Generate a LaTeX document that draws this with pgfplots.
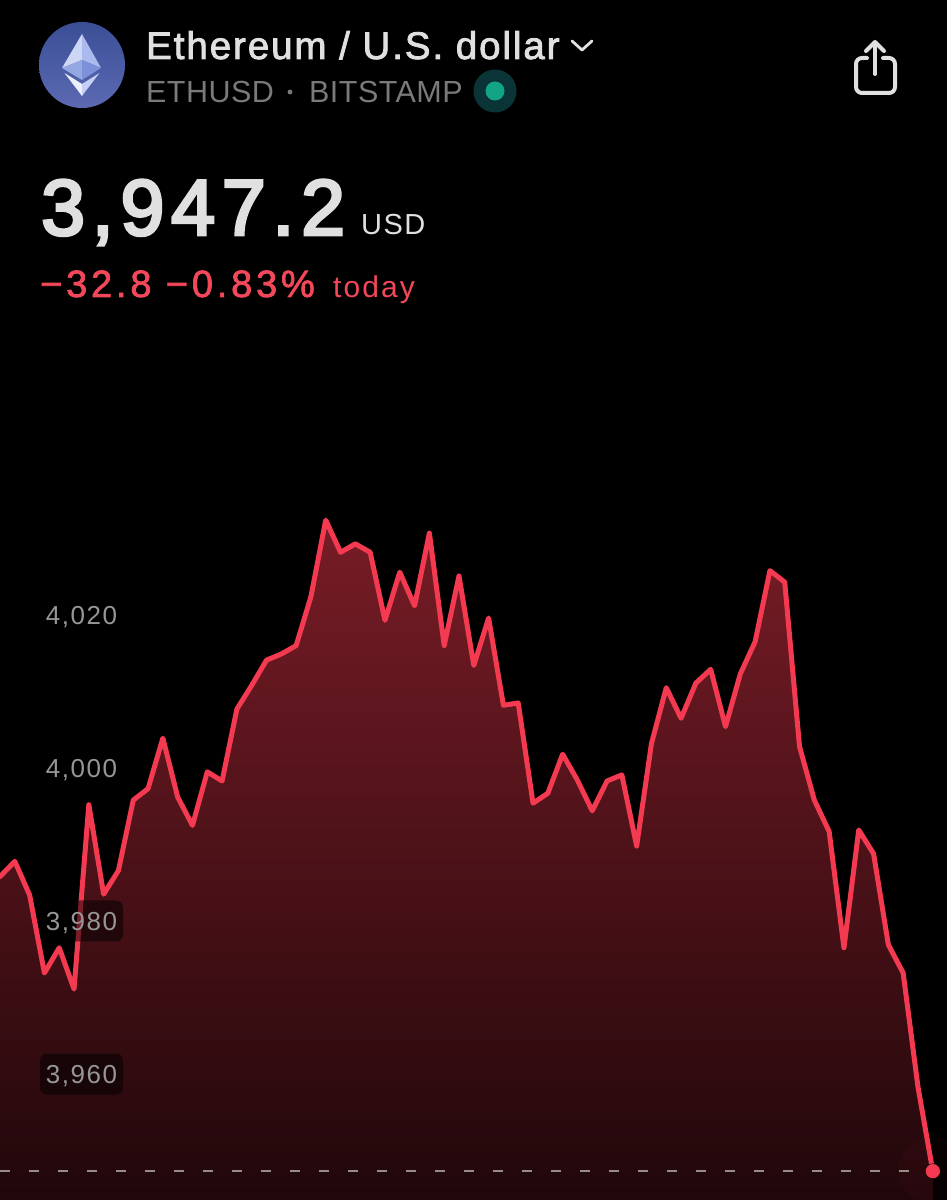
\documentclass[border=0pt]{standalone}
\usepackage{pgfplots}
\pgfplotsset{compat=1.18}
\usepackage{pgfplotstable}
\usepackage{fontspec}
\setmainfont{Liberation Sans}
\newfontfamily\titlefont[LetterSpace=5]{Liberation Sans}
\newfontfamily\pricefont[LetterSpace=8.5]{Liberation Sans}
\newfontfamily\redfont[LetterSpace=10]{Liberation Sans}
\newfontfamily\todayfont[LetterSpace=7]{Liberation Sans}
\newfontfamily\usdfont[LetterSpace=5]{Liberation Sans}
\newfontfamily\subfont[LetterSpace=1.5]{Liberation Sans}
\newfontfamily\tickfont[LetterSpace=6]{Liberation Sans}
\newcommand{\strk}[2]{\special{pdf:code 2 Tr #1 w}#2\special{pdf:code 0 Tr 1 w}}
\definecolor{linered}{RGB}{244,58,80}
\definecolor{txtred}{RGB}{242,72,90}
\definecolor{filltop}{RGB}{120,28,38}
\definecolor{fillbot}{RGB}{32,7,10}
\definecolor{lighttxt}{RGB}{224,224,224}
\definecolor{greytxt}{RGB}{122,122,122}
\definecolor{ticktxt}{RGB}{150,150,150}
\definecolor{dashgrey}{RGB}{150,140,140}
\pgfplotstableread{
i v
0 3985.8
1 3987.8
2 3983.4
3 3973.2
4 3976.5
5 3971.1
6 3995.2
7 3983.5
8 3986.6
9 3995.8
10 3997.3
11 4003.9
12 3996.2
13 3992.5
14 3999.5
15 3998.3
16 4007.7
17 4010.8
18 4014.1
19 4014.9
20 4016.0
21 4022.4
22 4032.4
23 4028.2
24 4029.3
25 4028.2
26 4019.3
27 4025.6
28 4021.2
29 4030.7
30 4016.0
31 4025.1
32 4013.4
33 4019.6
34 4008.2
35 4008.5
36 3995.4
37 3996.7
38 4001.8
39 3998.4
40 3994.4
41 3998.3
42 3999.1
43 3989.8
44 4003.2
45 4010.5
46 4006.5
47 4011.1
48 4012.9
49 4005.4
50 4012.3
51 4016.5
52 4025.8
53 4024.3
54 4002.8
55 3995.8
56 3991.7
57 3976.5
58 3991.9
59 3988.8
60 3976.9
61 3973.2
62 3958.3
63 3947.3
}\ethdata
\begin{document}
\begin{tikzpicture}
\useasboundingbox (0,0) rectangle (947pt,1200pt);
\fill[black] (0,0) rectangle (947pt,1200pt);
\begin{axis}[
  at={(0,0)}, anchor=south west,
  scale only axis, width=947pt, height=1200pt,
  xmin=0, xmax=63.96, ymin=3943.53, ymax=4100.39,
  axis line style={draw=none},
  axis on top=true,
  major tick length=0pt,
  xtick=\empty,
  ytick={3960,3980,4000,4020},
  yticklabels={{3,960},{3,980},{4,000},{4,020}},
  yticklabel style={anchor=center, xshift=81.5pt, font=\tickfont\fontsize{26}{26}\selectfont,
    text=ticktxt, fill=black, fill opacity=0.5, text opacity=1, rounded corners=7pt,
    minimum width=83pt, minimum height=41pt, inner sep=0pt, text depth=0pt, text height=19pt},
]
\addplot[draw=none, top color=filltop, bottom color=fillbot] table[x=i,y=v] {\ethdata} \closedcycle;
\addplot[only marks, mark=*, mark size=35pt, mark options={fill=linered, draw=none, opacity=0.03}] coordinates {(63,3947.3)};
\addplot[linered, line width=5pt, line join=round, line cap=round] table[x=i,y=v] {\ethdata};
\addplot[only marks, mark=*, mark size=7.5pt, mark options={fill=linered, draw=none}] coordinates {(63,3947.3)};
\addplot[dashgrey, line width=1.5pt, dash pattern=on 10pt off 19pt] coordinates {(0,3947.3) (63.96,3947.3)};
\end{axis}
\begin{scope}[shift={(0,1200pt)},x=1pt,y=-1pt]
  % logo
  \shade[top color={rgb,255:red,58;green,78;blue,150}, bottom color={rgb,255:red,92;green,106;blue,178}] (82,65) circle (43);
  \fill[fill={rgb,255:red,205;green,215;blue,245}] (82,34)--(62,68)--(82,60)--cycle;
  \fill[fill={rgb,255:red,170;green,185;blue,238}] (82,34)--(101,68)--(82,60)--cycle;
  \fill[fill={rgb,255:red,150;green,168;blue,228}] (62,68)--(82,60)--(82,80)--cycle;
  \fill[fill={rgb,255:red,125;green,145;blue,218}] (101,68)--(82,60)--(82,80)--cycle;
  \fill[fill={rgb,255:red,235;green,240;blue,252}] (64.5,73)--(82,84)--(82,96)--cycle;
  \fill[fill={rgb,255:red,195;green,207;blue,245}] (99.5,73)--(82,84)--(82,96)--cycle;
  % header text
  \node[anchor=base west, inner sep=0, text=lighttxt, font=\titlefont\fontsize{38.5}{40}\selectfont] at (146,59) {\strk{0.8}{Ethereum / U.S. dollar}};
  \draw[lighttxt, line width=2.8pt, line cap=round, line join=round] (572,41)--(582,50)--(592,41);
  \node[anchor=base west, inner sep=0, text=greytxt, font=\subfont\fontsize{30.5}{32}\selectfont] at (146,103) {ETHUSD};
  \fill[greytxt] (290,92) circle (2.4);
  \node[anchor=base west, inner sep=0, text=greytxt, font=\subfont\fontsize{30.5}{32}\selectfont] at (309,103) {BITSTAMP};
  \fill[fill={rgb,255:red,11;green,52;blue,54}] (495,91) circle (21.5);
  \fill[fill={rgb,255:red,18;green,165;blue,133}] (495,91) circle (9.5);
  % share icon
  \draw[lighttxt, line width=4pt, line cap=round, line join=round, rounded corners=6pt]
     (867,58)--(856,58)--(856,93)--(895,93)--(895,58)--(883,58);
  \draw[lighttxt, line width=4pt, line cap=round, line join=round] (875,74)--(875,43);
  \draw[lighttxt, line width=4pt, line cap=round, line join=round] (866,51)--(875,42)--(884,51);
  % price
  \node[anchor=base west, inner sep=0, text=lighttxt, font=\pricefont\fontsize{79}{84}\selectfont] at (41,235) {\strk{3}{3,947.2}};
  \node[anchor=base west, inner sep=0, text=lighttxt, font=\usdfont\fontsize{29}{30}\selectfont] at (361,235) {USD};
  \node[anchor=base west, inner sep=0, text=txtred, font=\redfont\fontsize{38}{40}\selectfont] at (40,297) {\strk{0.7}{−32.8 −0.83\%}};
  \node[anchor=base west, inner sep=0, text=txtred, font=\todayfont\fontsize{30}{32}\selectfont] at (333,298) {today};
\end{scope}
\end{tikzpicture}
\end{document}
